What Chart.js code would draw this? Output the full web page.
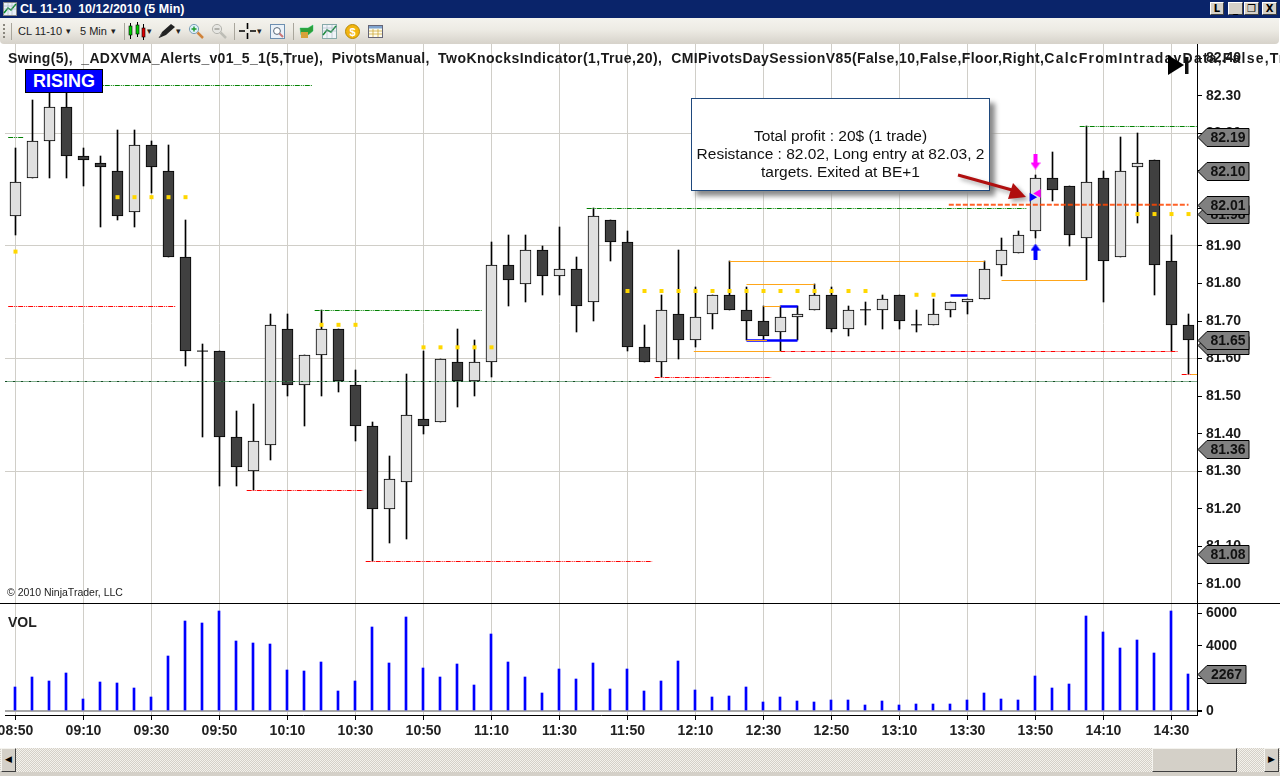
<!DOCTYPE html>
<html>
<head>
<meta charset="utf-8">
<title>CL 11-10 10/12/2010 (5 Min)</title>
<script src="https://cdn.jsdelivr.net/npm/chart.js@4"></script>
<style>
html,body{margin:0;padding:0;background:#fff;width:1280px;height:776px;overflow:hidden;font-family:"Liberation Sans",Arial,sans-serif}
.abs{position:absolute}
#titlebar{left:0;top:0;width:1280px;height:18px;background:#0A246A}
#titletext{left:20px;top:1px;color:#fff;font:bold 12.5px/16px "Liberation Sans",sans-serif;white-space:pre}
.wbtn{top:2px;height:13px;background:#D4D0C8;border:1px solid;border-color:#fff #404040 #404040 #fff;box-sizing:border-box;color:#000;font:bold 10px/11px "DejaVu Sans",sans-serif;text-align:center}
#toolbar{left:0;top:18px;width:1279px;height:26px;background:linear-gradient(#F4F3EE,#EDEBE4 45%,#D6D2CA);border-radius:0 0 4px 4px}
.tbt{top:25px;font:11px/13px "Liberation Sans",sans-serif;color:#222;white-space:pre}
.sep{top:23px;width:1px;height:17px;background:#A9A69C}
#hdr{left:8px;top:50px;font:bold 14px/16px "Liberation Sans",Arial,sans-serif;color:#1a1a1a;white-space:pre;letter-spacing:.3px}
#hdr .b{letter-spacing:.46px}
#hdr .c{letter-spacing:.4px}
#hdr .d{letter-spacing:1.2px}
#rising{left:25px;top:69px;width:78px;height:24px;box-sizing:border-box;background:#0000FF;border:1px solid #000;color:#fff;font:bold 18px/22px "Liberation Sans",Arial,sans-serif;text-align:center}
#copy{left:7px;top:586px;font:10.5px/13px "Liberation Sans",Arial,sans-serif;color:#222;white-space:pre}
#vol{left:8px;top:614px;font:bold 14px/16px "Liberation Sans",Arial,sans-serif;color:#222}
#callout{left:691px;top:98px;width:299px;height:93px;box-sizing:border-box;background:#fff;border:1px solid #1F497D;box-shadow:5px 5px 5px #8a8a8a;font:15.5px/18px "Liberation Sans",Arial,sans-serif;color:#111;text-align:center;padding-top:27.5px;white-space:pre}
#track{left:0;top:748px;width:1280px;height:24px;background-color:#fff;background-image:repeating-conic-gradient(#D4D0C8 0 25%,#F4F2EC 0 50%);background-size:2px 2px}
.sb{top:748px;height:24px;background:#D4D0C8;border:1px solid;border-color:#F4F3EE #404040 #404040 #F4F3EE;box-sizing:border-box;color:#000;font:9px/21px "DejaVu Sans",sans-serif;text-align:center}
#strip{left:0;top:772px;width:1280px;height:4px;background:#D4D0C8}
canvas{position:absolute;left:0}
</style>
</head>
<body>
<div class="abs" id="titlebar"></div>
<svg class="abs" style="left:3px;top:2px" width="14" height="14"><rect x=".5" y=".5" width="13" height="13" fill="#E8F0F8" stroke="#888"/><path d="M1 11L5 6L8 8L13 2" stroke="#0a8a2a" stroke-width="1.5" fill="none"/><path d="M1 7H13M1 4H13M5 1V13M9 1V13" stroke="#9ab" stroke-width=".5"/></svg>
<div class="abs" id="titletext">CL 11-10  10/12/2010 (5 Min)</div>
<div class="abs wbtn" style="left:1210px;width:14px">L</div>
<div class="abs wbtn" style="left:1228px;width:15px">_</div>
<div class="abs wbtn" style="left:1244px;width:15px">&#10064;</div>
<div class="abs wbtn" style="left:1262px;width:15px">X</div>
<div class="abs" id="toolbar"></div>
<div class="abs" style="left:3px;top:24px;width:2px;height:14px;background:repeating-linear-gradient(#8a877e 0 2px,transparent 2px 4px)"></div>
<div class="abs sep" style="left:11px"></div>
<div class="abs tbt" style="left:18px">CL 11-10</div><div class="abs tbt" style="left:66px;font-size:9px">&#9662;</div>
<div class="abs tbt" style="left:80px">5 Min</div><div class="abs tbt" style="left:111px;font-size:9px">&#9662;</div>
<div class="abs sep" style="left:124px"></div>
<svg class="abs" style="left:128px;top:22px" width="20" height="18"><path d="M2.5 1V17M9.5 0V15M15.5 2V18" stroke="#000"/><rect x="1" y="4" width="3" height="9" fill="#0c0" stroke="#000" stroke-width=".6"/><rect x="8" y="3" width="3" height="9" fill="#0c0" stroke="#000" stroke-width=".6"/><rect x="14" y="6" width="3" height="9" fill="#d00" stroke="#000" stroke-width=".6"/></svg>
<div class="abs tbt" style="left:147px;font-size:9px">&#9662;</div>
<svg class="abs" style="left:158px;top:23px" width="18" height="16"><path d="M1 15L4 9L13 1L17 4L8 12Z" fill="#222"/><path d="M1 15L4 10" stroke="#555"/></svg>
<div class="abs tbt" style="left:176px;font-size:9px">&#9662;</div>
<svg class="abs" style="left:188px;top:23px" width="16" height="16"><circle cx="6" cy="6" r="4.6" fill="#DDEFFA" stroke="#7CA0B8"/><path d="M9.5 9.5L15 15" stroke="#D0833A" stroke-width="2.5"/><path d="M3.5 6H8.5M6 3.5V8.5" stroke="#1a9a2a" stroke-width="1.4"/></svg>
<svg class="abs" style="left:211px;top:23px" width="16" height="16"><circle cx="6" cy="6" r="4.6" fill="#E6E6E2" stroke="#B4B4AE"/><path d="M9.5 9.5L15 15" stroke="#BDBDB6" stroke-width="2.5"/><path d="M3.5 6H8.5" stroke="#9a9a94" stroke-width="1.4"/></svg>
<div class="abs sep" style="left:234px"></div>
<svg class="abs" style="left:239px;top:23px" width="17" height="16"><path d="M8.5 0V6M8.5 10V16M0 8H6M11 8H17" stroke="#000" stroke-width="1.6"/></svg>
<div class="abs tbt" style="left:257px;font-size:9px">&#9662;</div>
<svg class="abs" style="left:270px;top:24px" width="15" height="15"><rect x=".5" y=".5" width="14" height="14" fill="#EAF1F8" stroke="#6D8FB0"/><circle cx="7" cy="7" r="3.4" fill="#fff" stroke="#567"/><path d="M9.5 9.5L13 13" stroke="#C77" stroke-width="2"/></svg>
<div class="abs sep" style="left:293px"></div>
<svg class="abs" style="left:299px;top:24px" width="15" height="15"><path d="M1 4H9L14 1V7L9 11H2Z" fill="#2E9E3A" stroke="#1c6" stroke-width=".4"/><path d="M2 8H9V14H2Z" fill="#D8A23A"/></svg>
<svg class="abs" style="left:322px;top:24px" width="15" height="15"><rect x=".5" y=".5" width="14" height="14" fill="#F0F4F8" stroke="#8AA"/><path d="M1 11L5 6L9 8L14 2" stroke="#1a8a3a" stroke-width="1.5" fill="none"/><path d="M1 7H14M1 4H14M5 1V14M10 1V14" stroke="#9ab" stroke-width=".5"/></svg>
<svg class="abs" style="left:345px;top:24px" width="15" height="15"><circle cx="7.5" cy="7.5" r="7" fill="#F2B50F" stroke="#B88A08"/><text x="7.5" y="11.5" text-anchor="middle" font-family="Liberation Sans" font-weight="bold" font-size="11" fill="#fff">$</text></svg>
<svg class="abs" style="left:368px;top:24px" width="15" height="15"><rect x=".5" y="1.5" width="14" height="12" fill="#FDFCEF" stroke="#667"/><rect x="1" y="2" width="13" height="2.5" fill="#7FA3CE"/><path d="M1 7H14M1 10H14M5 5V13M10 5V13" stroke="#C9A227" stroke-width=".7"/></svg>

<canvas id="priceChart" width="1280" height="559" style="top:44px;width:1280px;height:559px"></canvas>
<canvas id="volChart" width="1280" height="145" style="top:603px;width:1280px;height:145px"></canvas>
<div class="abs" style="left:0;top:603px;width:1280px;height:1px;background:#000"></div>
<div class="abs" id="hdr">Swing(5),  _ADXVMA_Alerts_v01_5_1(5,True),  PivotsManual,  <span class="b">TwoKnocksIndicator(1,True,20),  </span><span class="c">CMIPivotsDaySessionV85(False,10,False,Floor,Right,</span><span class="d">CalcFromIntradayData,False,True)</span></div>
<div class="abs" id="rising">RISING</div>
<svg class="abs" style="left:1166px;top:54px" width="26" height="22"><path d="M2 1L18 11L2 21Z" fill="#000"/><rect x="19" y="3" width="3.5" height="17" fill="#111"/></svg>
<div class="abs" id="copy">&#169; 2010 NinjaTrader, LLC</div>
<div class="abs" id="vol">VOL</div>
<div class="abs" id="callout">Total profit : 20$ (1 trade)
Resistance : 82.02, Long entry at 82.03, 2
targets. Exited at BE+1</div>
<svg class="abs" style="left:950px;top:165px;filter:drop-shadow(3px 3px 2px rgba(0,0,0,.35))" width="90" height="42"><path d="M8 10L62 25" stroke="#B00F0F" stroke-width="3"/><path d="M76 32L58 34L63 18Z" fill="#B00F0F"/></svg>
<div class="abs" id="track"></div>
<div class="abs sb" style="left:1px;width:15px">&#9664;</div>
<div class="abs sb" style="left:1152px;width:85px"></div>
<div class="abs sb" style="left:1264px;width:15px">&#9654;</div>
<div class="abs" id="strip"></div>

<script>
// ---------- data ----------
const xTickIndex  = [0,4,8,12,16,20,24,28,32,36,40,44,48,52,56,60,64,68];
const xTickLabels = ['08:50','09:10','09:30','09:50','10:10','10:30','10:50','11:10','11:30','11:50','12:10','12:30','12:50','13:10','13:30','13:50','14:10','14:30'];
const priceTicks  = [81.0,81.1,81.2,81.3,81.4,81.5,81.6,81.7,81.8,81.9,82.0,82.1,82.2,82.3,82.4];
const priceGrid   = [81.3,81.6,81.9,82.2];
const volTicks    = [0,2000,4000,6000];

const opens  = [81.98,82.08,82.18,82.27,82.14,82.12,82.10,81.99,82.17,82.10,81.87,81.62,81.62,81.39,81.30,81.37,81.68,81.53,81.61,81.68,81.53,81.42,81.20,81.27,81.44,81.43,81.59,81.54,81.59,81.85,81.80,81.89,81.82,81.84,81.75,81.97,81.91,81.63,81.59,81.72,81.65,81.72,81.77,81.73,81.70,81.67,81.71,81.73,81.77,81.68,81.73,81.73,81.77,81.69,81.69,81.73,81.75,81.76,81.85,81.88,81.94,82.08,82.06,81.92,82.08,81.87,82.11,82.13,81.86,81.69];
const highs  = [82.16,82.29,82.33,82.33,82.16,82.14,82.21,82.21,82.18,82.17,81.97,81.64,81.62,81.46,81.48,81.72,81.72,81.61,81.73,81.68,81.57,81.43,81.34,81.56,81.62,81.60,81.68,81.65,81.91,81.93,81.93,81.90,81.95,81.87,82.00,81.97,81.94,81.69,81.77,81.89,81.79,81.77,81.86,81.79,81.74,81.74,81.74,81.80,81.79,81.74,81.75,81.77,81.77,81.73,81.76,81.75,81.76,81.86,81.92,81.94,82.09,82.15,82.06,82.22,82.10,82.19,82.20,82.13,81.93,81.72];
const lows   = [81.93,82.08,82.08,82.08,82.06,81.95,81.97,81.95,82.04,81.87,81.58,81.39,81.26,81.26,81.25,81.33,81.50,81.42,81.50,81.51,81.38,81.06,81.11,81.12,81.40,81.43,81.47,81.50,81.55,81.74,81.75,81.77,81.77,81.67,81.70,81.86,81.62,81.59,81.55,81.60,81.63,81.68,81.73,81.65,81.65,81.62,81.65,81.73,81.67,81.66,81.69,81.68,81.68,81.67,81.69,81.71,81.72,81.76,81.82,81.88,81.92,82.02,81.90,81.81,81.75,81.87,81.96,81.77,81.62,81.56];
const closes = [82.07,82.18,82.27,82.14,82.13,82.11,81.98,82.17,82.11,81.87,81.62,81.62,81.39,81.31,81.38,81.69,81.53,81.61,81.68,81.54,81.42,81.20,81.28,81.45,81.42,81.60,81.54,81.59,81.85,81.81,81.89,81.82,81.84,81.74,81.98,81.91,81.63,81.59,81.73,81.65,81.71,81.77,81.73,81.70,81.66,81.71,81.72,81.77,81.68,81.73,81.73,81.76,81.70,81.69,81.72,81.75,81.76,81.84,81.89,81.93,82.08,82.05,81.93,82.07,81.86,82.10,82.12,81.85,81.69,81.65];
const volumes = [1470,2080,1840,2330,735,1775,1715,1410,860,3370,5510,5390,6120,4290,4160,4100,2510,2450,3000,1225,1840,5140,2940,5755,2680,2130,2870,1585,4760,2990,2130,1100,2560,1950,2930,1340,2560,1220,1830,3110,1280,850,915,1460,550,850,610,550,670,670,370,610,370,430,430,430,670,1100,735,670,2140,1410,1650,5820,4840,3860,4350,3550,6120,2267];

// yellow pivot dots: [bar index, price]
const pivotDotIndex = [0,6,7,8,9,10,18,19,20,24,25,26,27,28,36,37,38,39,40,41,42,43,44,45,46,47,48,49,50,53,54,66,67,68,69];
const pivotDotPrice = [81.885,82.03,82.03,82.03,82.03,82.03,81.69,81.69,81.69,81.63,81.63,81.63,81.63,81.63,81.78,81.78,81.78,81.78,81.78,81.78,81.78,81.78,81.78,81.78,81.78,81.78,81.78,81.78,81.78,81.77,81.77,81.985,81.985,81.985,81.985];

// swing lines: [price, from bar, to bar]
const swingHigh = [[82.19,-0.43,0.45],[82.33,2.9,17.45],[81.73,17.6,27.45],[82.00,33.6,59.5],[82.22,62.6,69.5]];
const swingLow  = [[81.74,-0.43,9.45],[81.25,13.6,20.45],[81.06,20.6,37.45],[81.55,37.6,44.45],[81.62,45,68.4],[81.56,68.6,69.15]];
const orangeThin = [[81.62,39.9,45],[81.86,42,57],[81.80,43,47],[81.81,58,63],[81.65,43,44.2],[81.74,44,45],[81.56,69.15,69.5]];
const blueThick  = [[81.65,43,46],[81.74,45,46],[81.77,55,56]];
const baseLinePrice = 81.54;
const resistancePrice = 82.01, resistanceFrom = 54.9, resistanceTo = 69;

// trade markers
const entryArrow = {x:60, y:81.885}, exitArrow = {x:60, y:82.125};
const entryMark  = {x:59.8, y:82.03}, exitMark = {x:60.16, y:82.04};

// right axis tags, back to front
const priceTags = [82.19,82.10,81.985,82.01,81.635,81.65,81.36,81.08];
const volTags   = [2267];

// ---------- helpers ----------
const FONT = '"Liberation Sans", Arial, sans-serif';
const GRID = '#D0CEC8';
const xMin = (5 - 15.5) / 17, xMax = (1197 - 15.5) / 17;
const idx = opens.map((_, i) => i);

function seg(row, color, width, dash, order) {
  return {type:'line', data:[{x:row[1],y:row[0]},{x:row[2],y:row[0]}], borderColor:color, borderWidth:width,
          borderDash:dash||[], pointRadius:0, order:order, snap:true, fill:false, tension:0};
}
function arrowCanvas(color, up) {
  const c = document.createElement('canvas'); c.width = 10; c.height = 16;
  const g = c.getContext('2d'); g.fillStyle = color;
  if (!up) { g.translate(0,16); g.scale(1,-1); }
  g.beginPath(); g.moveTo(5,0); g.lineTo(10,7); g.lineTo(7,7); g.lineTo(7,16); g.lineTo(3,16); g.lineTo(3,7); g.lineTo(0,7); g.closePath(); g.fill();
  return c;
}
const crisp = {id:'crisp', afterDatasetsUpdate(chart) {
  chart.getSortedVisibleDatasetMetas().forEach(m => {
    const ds = chart.data.datasets[m.index];
    if (m.type === 'bar') {
      m.data.forEach(el => { el.y = Math.round(el.y); el.base = Math.round(el.base); if (el.width % 2 === 0) el.x = Math.floor(el.x); });
    } else if (ds.snap) {
      m.data.forEach(p => { p.y = Math.round(p.y) + 0.5; });
    }
  });
}};
function tagPlugin(axis, values, right, fmt) {
  return {id:'tags', afterDraw(chart) {
    const c = chart.ctx, s = chart.scales[axis];
    values.forEach(v => {
      const y = Math.round(s.getPixelForValue(v)) + .5, l = 1198;
      c.save(); c.beginPath();
      c.moveTo(l, y); c.lineTo(l + 9, y - 9); c.lineTo(right, y - 9); c.lineTo(right, y + 9); c.lineTo(l + 9, y + 9); c.closePath();
      c.fillStyle = '#808080'; c.fill(); c.strokeStyle = '#000'; c.lineWidth = 1; c.stroke();
      c.fillStyle = '#111'; c.font = 'bold 14px ' + FONT; c.textAlign = 'center'; c.textBaseline = 'middle';
      c.fillText(fmt(v), (l + 9 + right) / 2, y + .5); c.restore();
    });
  }};
}
function noPad(s) { s.paddingLeft = 0; s.paddingRight = 0; s.paddingTop = 0; s.paddingBottom = 0; }
const base = {responsive:false, animation:false, devicePixelRatio:1, events:[],
  layout:{autoPadding:false, padding:{left:5,right:0,top:0,bottom:0}},
  plugins:{legend:{display:false}, title:{display:false}, tooltip:{enabled:false}}};
function xAxis(showLabels) {
  return {type:'linear', min:xMin, max:xMax, offset:false,
    grid:{offset:false, color:GRID, lineWidth:1, drawTicks:showLabels, tickLength:5, tickColor:'#000'},
    border:{display:showLabels, color:'#000'},
    ticks:{display:showLabels, autoSkip:false, maxRotation:0, minRotation:0, padding:3, color:'#222',
      font:{family:FONT, size:14, weight:'bold'},
      callback:v => xTickLabels[xTickIndex.indexOf(v)]},
    afterBuildTicks:s => { s.ticks = xTickIndex.map(v => ({value:v})); },
    afterFit:s => { s.height = showLabels ? 33 : 0; noPad(s); }};
}

// ---------- price pane ----------
const isDoji = i => opens[i] === closes[i];
const dark = '#404040', light = '#E0E0E0';
new Chart(document.getElementById('priceChart'), {
  type:'bar',
  data:{datasets:[
    {type:'bar', data:idx.map(i => ({x:i, y:[lows[i],highs[i]]})), backgroundColor:'#000', barThickness:1, grouped:false, order:9},
    {type:'bar', data:idx.filter(i => !isDoji(i)).map(i => ({x:i, y:[opens[i],closes[i]]})),
     backgroundColor:idx.filter(i => !isDoji(i)).map(i => closes[i] > opens[i] ? light : dark),
     borderColor:'#000', borderWidth:1, borderSkipped:false, barThickness:11, grouped:false, order:8},
    {type:'line', data:idx.filter(isDoji).map(i => ({x:i, y:opens[i]})), showLine:false, pointStyle:'line', pointRadius:5.5,
     pointBorderColor:'#000', pointBorderWidth:1, order:7},
    ...swingHigh.map(r => seg(r,'#008000',1,[5,1,1,1,1,1],6)),
    ...swingLow.map(r => seg(r,'#FF0000',1,[5,1,1,1,1,1],6)),
    ...orangeThin.map(r => seg(r,'#FFA61A',1,[],5)),
    ...blueThick.map(r => seg(r,'#0000FF',2.5,[],5.5)),
    {type:'line', data:[{x:xMin,y:baseLinePrice},{x:xMax,y:baseLinePrice}], borderColor:'rgba(60,130,80,.65)', borderWidth:1, pointRadius:0, order:4, snap:true},
    {type:'line', data:[{x:xMin,y:baseLinePrice},{x:xMax,y:baseLinePrice}], borderColor:'#124A22', borderWidth:1, borderDash:[2,6], pointRadius:0, order:3.9, snap:true},
    {type:'line', data:[{x:resistanceFrom,y:resistancePrice},{x:resistanceTo,y:resistancePrice}], borderColor:'rgba(255,69,0,.85)', borderWidth:2, borderDash:[5,2], pointRadius:0, order:3},
    {type:'line', data:pivotDotIndex.map((x,i) => ({x, y:pivotDotPrice[i]})), showLine:false, pointStyle:'rect', pointRadius:2.83,
     pointBackgroundColor:'#FFD700', pointBorderWidth:0, order:2},
    {type:'line', data:[entryArrow], showLine:false, pointStyle:arrowCanvas('#0000FF',true), order:1},
    {type:'line', data:[exitArrow], showLine:false, pointStyle:arrowCanvas('#FF00FF',false), order:1},
    {type:'line', data:[entryMark], showLine:false, pointStyle:'triangle', rotation:90, pointRadius:5, pointBackgroundColor:'#0000FF', pointBorderWidth:0, order:1},
    {type:'line', data:[exitMark], showLine:false, pointStyle:'triangle', rotation:-90, pointRadius:5, pointBackgroundColor:'#FF00FF', pointBorderWidth:0, order:1}
  ]},
  options:{...base,
    scales:{
      x:xAxis(false),
      y:{type:'linear', position:'right', min:80.949, max:82.438, beginAtZero:false,
        grid:{color:c => priceGrid.some(v => c.tick && Math.abs(c.tick.value - v) < 1e-6) ? GRID : 'rgba(0,0,0,0)', tickLength:5, tickColor:'#000'},
        border:{color:'#000'},
        ticks:{padding:4, autoSkip:false, color:'#1a1a1a', font:{family:FONT, size:14, weight:'bold'}, callback:v => v.toFixed(2)},
        afterBuildTicks:s => { s.ticks = priceTicks.map(v => ({value:v})); },
        afterFit:s => { s.width = 83; noPad(s); }}
    }},
  plugins:[crisp, tagPlugin('y', priceTags, 1249, v => v === 81.985 ? '81.98' : v === 81.635 ? '81.63' : v.toFixed(2))]
});

// ---------- volume pane ----------
new Chart(document.getElementById('volChart'), {
  type:'bar',
  data:{datasets:[
    {type:'bar', data:idx.map(i => ({x:i, y:volumes[i]})), backgroundColor:'#0000FF', barThickness:2, grouped:false, borderWidth:0, order:1}
  ]},
  options:{...base,
    scales:{
      x:xAxis(true),
      y:{type:'linear', position:'right', min:-227, max:6631, beginAtZero:false,
        grid:{color:c => c.tick && c.tick.value === 0 ? '#A8A8A8' : 'rgba(0,0,0,0)', lineWidth:c => c.tick && c.tick.value === 0 ? 2 : 1, tickLength:5, tickColor:'#000'},
        border:{color:'#000'},
        ticks:{padding:4, autoSkip:false, color:'#1a1a1a', font:{family:FONT, size:14, weight:'bold'}, callback:v => String(v)},
        afterBuildTicks:s => { s.ticks = volTicks.map(v => ({value:v})); },
        afterFit:s => { s.width = 83; noPad(s); }}
    }},
  plugins:[crisp, tagPlugin('y', volTags, 1246, v => String(v))]
});
</script>
</body>
</html>
